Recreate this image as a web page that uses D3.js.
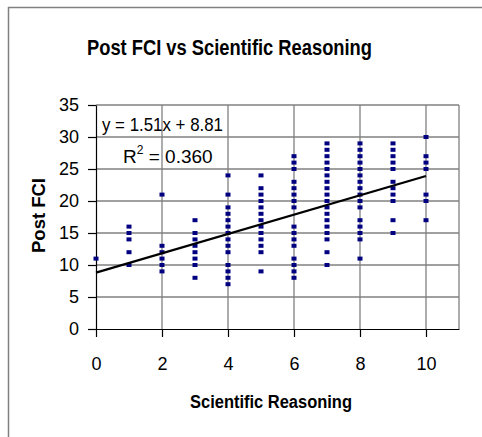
<!DOCTYPE html>
<html>
<head>
<meta charset="utf-8">
<script src="https://cdn.jsdelivr.net/npm/d3@7"></script>
<style>
  body { margin: 0; background: #fff; }
  svg { display: block; font-family: "Liberation Sans", Arial, sans-serif; }
</style>
</head>
<body>
<svg width="482" height="437"></svg>
<script>
'use strict';

// Scientific Reasoning score (x) and the Post FCI values seen at that score
const xScores = [0, 1, 2, 3, 4, 5, 6, 7, 8, 9, 10];
const postFci = [
  [11],
  [16, 15, 14, 12, 10],
  [21, 13, 12, 11, 10, 9],
  [17, 15, 14, 13, 12, 11, 10, 8],
  [24, 21, 19, 18, 17, 16, 15, 14, 13, 12, 10, 9, 8, 7],
  [24, 22, 21, 20, 19, 18, 17, 16, 15, 14, 13, 12, 9],
  [27, 26, 25, 23, 22, 21, 20, 19, 16, 15, 14, 13, 11, 10, 9, 8],
  [29, 28, 27, 26, 25, 24, 23, 22, 21, 20, 19, 18, 17, 16, 15, 14, 12, 10],
  [29, 28, 27, 26, 25, 24, 23, 22, 21, 20, 19, 17, 16, 15, 14, 11],
  [29, 28, 27, 26, 25, 23, 22, 21, 20, 17, 15],
  [30, 27, 26, 25, 21, 20, 17]
];
const xTicks = [0, 2, 4, 6, 8, 10];
const yTicks = [0, 5, 10, 15, 20, 25, 30, 35];
const slope = 1.51, intercept = 8.81;

const points = [];
xScores.forEach((s, i) => postFci[i].forEach(v => points.push({x: s, y: v})));

let svg = d3.select("svg");

// chart frame (only left and top edges are inside the picture)
svg.append("rect")
  .attr("x", 8.5).attr("y", 7.5)
  .attr("width", 600).attr("height", 600)
  .attr("fill", "none")
  .attr("stroke", "#808080")
  .attr("stroke-width", 1.5);

let x = d3.scaleLinear().domain([0, 11]).range([96, 459]);
let y = d3.scaleLinear().domain([0, 35]).range([329, 105]);

let grid = svg.append("g")
  .attr("stroke", "#808080")
  .attr("stroke-width", 1.3);

grid.selectAll("line.h")
  .data(yTicks.filter(d => d > 0))
  .join("line")
    .attr("class", "h")
    .attr("x1", x(0)).attr("x2", x(11))
    .attr("y1", d => y(d)).attr("y2", d => y(d));

grid.selectAll("line.v")
  .data(xTicks.filter(d => d > 0).concat([11]))
  .join("line")
    .attr("class", "v")
    .attr("x1", d => x(d)).attr("x2", d => x(d))
    .attr("y1", y(0)).attr("y2", y(35));

let xAxis = svg.append("g")
  .attr("transform", `translate(0,${y(0)})`)
  .call(d3.axisBottom(x).tickValues(xTicks).tickSize(8).tickSizeOuter(0).tickPadding(20));

let yAxis = svg.append("g")
  .attr("transform", `translate(${x(0)},0)`)
  .call(d3.axisLeft(y).tickValues(yTicks).tickSize(8).tickSizeOuter(0).tickPadding(9));

[xAxis, yAxis].forEach(a => {
  a.selectAll("path, line").attr("stroke", "#000").attr("stroke-width", 1.2);
  a.selectAll("text")
    .attr("fill", "#000")
    .style("font-size", "18px")
    .style("font-family", "'Liberation Sans', Arial, sans-serif");
});

// data points
svg.append("g")
  .attr("fill", "#000080")
  .selectAll("rect")
  .data(points)
  .join("rect")
    .attr("x", d => x(d.x) - 2.5)
    .attr("y", d => y(d.y) - 2)
    .attr("width", 5)
    .attr("height", 4);

// linear trendline
svg.append("line")
  .attr("x1", x(0)).attr("y1", y(intercept))
  .attr("x2", x(10)).attr("y2", y(slope * 10 + intercept))
  .attr("stroke", "#000")
  .attr("stroke-width", 2.2);

// texts
svg.append("text")
  .attr("x", 87).attr("y", 55)
  .attr("textLength", 285).attr("lengthAdjust", "spacingAndGlyphs")
  .style("font-size", "22px").style("font-weight", "bold")
  .text("Post FCI vs Scientific Reasoning");

svg.append("text")
  .attr("x", 190).attr("y", 408)
  .attr("textLength", 162).attr("lengthAdjust", "spacingAndGlyphs")
  .style("font-size", "18px").style("font-weight", "bold")
  .text("Scientific Reasoning");

svg.append("text")
  .attr("transform", "translate(45,253) rotate(-90)")
  .attr("textLength", 75).attr("lengthAdjust", "spacingAndGlyphs")
  .style("font-size", "18px").style("font-weight", "bold")
  .text("Post FCI");

svg.append("text")
  .attr("x", 102).attr("y", 131)
  .attr("textLength", 121).attr("lengthAdjust", "spacingAndGlyphs")
  .style("font-size", "19px")
  .text(`y = ${slope}x + ${intercept}`);

let r2 = svg.append("text")
  .attr("x", 123).attr("y", 163)
  .style("font-size", "19px");
r2.append("tspan").text("R");
r2.append("tspan").attr("dy", -9).style("font-size", "12px").text("2");
r2.append("tspan").attr("dy", 9).text(" = 0.360");
</script>
</body>
</html>
